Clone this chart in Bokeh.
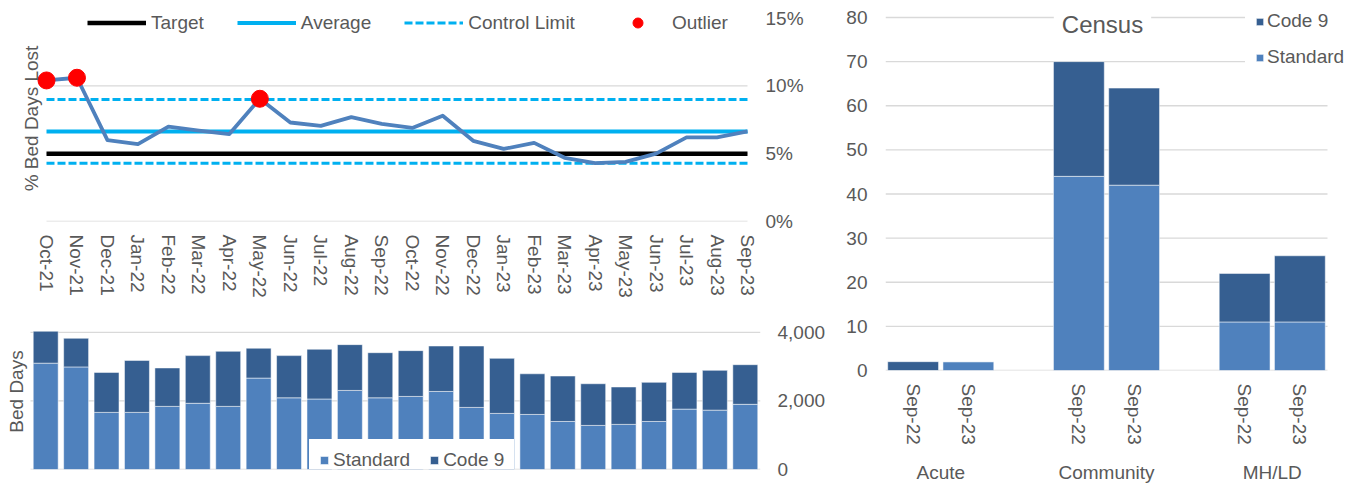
import math
from bokeh.plotting import figure
from bokeh.layouts import row, column
from bokeh.models import (Range1d, FixedTicker, PrintfTickFormatter,
                          NumeralTickFormatter, Legend, LegendItem, Label, LinearAxis,
                          ColumnDataSource)
from bokeh.embed import file_html
from bokeh.resources import INLINE

# ---------------- data ----------------
months = ["Oct-21", "Nov-21", "Dec-21", "Jan-22", "Feb-22", "Mar-22", "Apr-22", "May-22",
          "Jun-22", "Jul-22", "Aug-22", "Sep-22", "Oct-22", "Nov-22", "Dec-22", "Jan-23",
          "Feb-23", "Mar-23", "Apr-23", "May-23", "Jun-23", "Jul-23", "Aug-23", "Sep-23"]
pct_lost = [10.4, 10.6, 6.0, 5.7, 7.0, 6.7, 6.45, 9.05, 7.3, 7.05, 7.7, 7.2,
            6.9, 7.8, 5.95, 5.35, 5.8, 4.7, 4.3, 4.4, 5.0, 6.2, 6.2, 6.65]
target = 5.0
average = 6.63
upper_limit = 9.0
lower_limit = 4.3
outlier_months = ["Oct-21", "Nov-21", "May-22"]
pct_ticks = [0, 5, 10, 15]

standard_days = [3100, 2990, 1665, 1665, 1840, 1930, 1840, 2665, 2090, 2055, 2305, 2090,
                 2130, 2275, 1810, 1635, 1605, 1400, 1285, 1315, 1400, 1760, 1730, 1900]
code9_days = [930, 835, 1165, 1515, 1120, 1390, 1605, 870, 1230, 1450, 1335, 1315,
              1335, 1325, 1790, 1605, 1185, 1325, 1215, 1090, 1140, 1070, 1160, 1155]
bed_ticks = [0, 2000, 4000]

census_groups = ["Acute", "Community", "MH/LD"]
census_periods = ["Sep-22", "Sep-23"]
census_standard = [0, 2, 44, 42, 11, 11]
census_code9 = [2, 0, 26, 22, 11, 15]
census_ticks = [0, 10, 20, 30, 40, 50, 60, 70, 80]

# ---------------- style ----------------
FONT = "Liberation Sans"
TXT = "#595959"
GRID = "#d9d9d9"
C_STD = "#4f81bd"
C_C9 = "#365f91"
C_AVG = "#00b0f0"
FS = "19px"


def style_fig(p):
    p.outline_line_color = None
    p.background_fill_color = "white"
    p.border_fill_color = "white"
    p.xgrid.visible = False
    p.ygrid.visible = False


def style_axis(ax, standoff):
    ax.major_label_text_font = FONT
    ax.major_label_text_font_size = FS
    ax.major_label_text_color = TXT
    ax.major_tick_line_color = None
    ax.major_tick_out = 0
    ax.major_tick_in = 0
    ax.minor_tick_line_color = None
    ax.minor_tick_out = 0
    ax.axis_line_color = None
    ax.major_label_standoff = standoff


def gridlines(p, x0, x1, ticks):
    p.segment(x0=[x0] * len(ticks), x1=[x1] * len(ticks), y0=ticks, y1=ticks,
              line_color=GRID, line_width=1.3)


n = len(months)
xs = list(range(n))

# ---------------- top-left: % bed days lost ----------------
# frames of both left charts start at the page edge; side titles sit inside them
a_px = 701 / (n - 1)
a_start = -46 / a_px
pA = figure(frame_width=760, frame_height=217,
            x_range=Range1d(a_start, a_start + 760 / a_px),
            y_range=Range1d(0, 16), y_axis_location="right",
            min_border_left=0, min_border_right=70, min_border_top=4, min_border_bottom=99,
            output_backend="svg", toolbar_location=None)
style_fig(pA)
style_axis(pA.yaxis[0], 5)
pA.yaxis.ticker = FixedTicker(ticks=pct_ticks)
pA.yaxis.formatter = PrintfTickFormatter(format="%d%%")
style_axis(pA.xaxis[0], 13)
pA.xaxis.ticker = FixedTicker(ticks=xs)
pA.xaxis.major_label_overrides = {i: m for i, m in enumerate(months)}
pA.xaxis.major_label_orientation = "vertical"
gridlines(pA, xs[0], xs[-1], pct_ticks[:-1])

ends = [xs[0], xs[-1]]
r_ucl = pA.line(ends, [upper_limit] * 2, line_color=C_AVG, line_width=3, line_dash="8 3")
r_lcl = pA.line(ends, [lower_limit] * 2, line_color=C_AVG, line_width=3, line_dash="8 3")
r_tgt = pA.line(ends, [target] * 2, line_color="black", line_width=4.5)
r_avg = pA.line(ends, [average] * 2, line_color=C_AVG, line_width=4)
pA.line(xs, pct_lost, line_color=C_STD, line_width=3.8, line_join="round")
ox = [months.index(m) for m in outlier_months]
oy = [pct_lost[i] for i in ox]
r_out = pA.scatter(ox, oy, size=17, fill_color="#ff0000", line_color="#ff0000")

legA = Legend(items=[LegendItem(label="Target", renderers=[r_tgt]),
                     LegendItem(label="Average", renderers=[r_avg]),
                     LegendItem(label="Control Limit", renderers=[r_ucl]),
                     LegendItem(label="Outlier", renderers=[r_out])],
              orientation="horizontal", location=(82, 181), glyph_width=59, glyph_height=25,
              label_standoff=5, spacing=33, padding=5, margin=0,
              background_fill_alpha=0, border_line_alpha=0,
              label_text_font=FONT, label_text_font_size=FS, label_text_color=TXT)
pA.add_layout(legA)
pA.add_layout(Label(x=31, y=103, x_units="screen", y_units="screen", text="% Bed Days Lost",
                    angle=math.pi / 2, text_align="center", text_baseline="middle",
                    text_font=FONT, text_font_size=FS, text_color=TXT))

# ---------------- bottom-left: bed days ----------------
slot = 730 / n
pB = figure(frame_width=760, frame_height=139,
            x_range=Range1d(-0.5 - 30 / slot, n - 0.5),
            y_range=Range1d(0, 4052), y_axis_location="right",
            min_border_left=0, min_border_right=70, min_border_top=10, min_border_bottom=16,
            output_backend="svg", toolbar_location=None)
style_fig(pB)
pB.xaxis.visible = False
style_axis(pB.yaxis[0], 17)
pB.yaxis.ticker = FixedTicker(ticks=bed_ticks)
pB.yaxis.formatter = NumeralTickFormatter(format="0,0")
gridlines(pB, -0.5, n - 0.5, bed_ticks)
srcB = ColumnDataSource({"x": xs, "Standard": standard_days, "Code 9": code9_days})
rB = pB.vbar_stack(["Standard", "Code 9"], x="x", width=0.82, source=srcB,
                   fill_color=[C_STD, C_C9], line_color="white", line_alpha=0.5, line_width=1)
legB = Legend(items=[LegendItem(label="Standard", renderers=[rB[0]]),
                     LegendItem(label="Code 9", renderers=[rB[1]])],
              orientation="horizontal", location=(309, -12), glyph_width=10, glyph_height=10,
              label_standoff=4, spacing=19, padding=10, margin=0,
              background_fill_color="white", background_fill_alpha=1, border_line_alpha=0,
              label_text_font=FONT, label_text_font_size=FS, label_text_color=TXT)
pB.add_layout(legB)
pB.add_layout(Label(x=16, y=78, x_units="screen", y_units="screen", text="Bed Days",
                    angle=math.pi / 2, text_align="center", text_baseline="middle",
                    text_font=FONT, text_font_size=FS, text_color=TXT))

# ---------------- right: census ----------------
n_per = len(census_periods)
group_pad = 1.0
cx, cper = [], []
for gi, g in enumerate(census_groups):
    for pj, per in enumerate(census_periods):
        cx.append(gi * (n_per + group_pad) + pj + 0.5)
        cper.append(per)
group_centers = [gi * (n_per + group_pad) + n_per / 2 for gi in range(len(census_groups))]
bars_end = len(census_groups) * (n_per + group_pad) - group_pad
px_per_unit = 353 / census_ticks[-1]

pC = figure(frame_width=472, frame_height=370,
            x_range=Range1d(0, bars_end * 472 / 442),
            y_range=Range1d(0, census_ticks[-1] + 17 / px_per_unit),
            min_border_left=55, min_border_right=0, min_border_top=0, min_border_bottom=115,
            output_backend="svg", toolbar_location=None)
style_fig(pC)
style_axis(pC.yaxis[0], 18)
pC.yaxis.ticker = FixedTicker(ticks=census_ticks)
style_axis(pC.xaxis[0], 13)
pC.xaxis.ticker = FixedTicker(ticks=cx)
pC.xaxis.major_label_overrides = {x: per for x, per in zip(cx, cper)}
pC.xaxis.major_label_orientation = "vertical"
gax = LinearAxis(ticker=FixedTicker(ticks=group_centers),
                 major_label_overrides={x: g for x, g in zip(group_centers, census_groups)})
style_axis(gax, 14)
gax.major_label_orientation = "horizontal"
pC.add_layout(gax, "below")
gridlines(pC, 0, bars_end, census_ticks)

srcC = ColumnDataSource({"x": cx, "Standard": census_standard, "Code 9": census_code9})
rC = pC.vbar_stack(["Standard", "Code 9"], x="x", width=0.92, source=srcC,
                   fill_color=[C_STD, C_C9], line_color="white", line_alpha=0.5, line_width=1)
legC = Legend(items=[LegendItem(label="Code 9", renderers=[rC[1]]),
                     LegendItem(label="Standard", renderers=[rC[0]])],
              orientation="vertical", location=(360, 292), glyph_width=9, glyph_height=9,
              label_standoff=3, label_height=21, spacing=14, padding=10, margin=0,
              background_fill_color="white", background_fill_alpha=1, border_line_alpha=0,
              label_text_font=FONT, label_text_font_size=FS, label_text_color=TXT)
pC.add_layout(legC)
pC.add_layout(Label(x=217, y=346, x_units="screen", y_units="screen", text="Census",
                    text_align="center", text_baseline="middle", text_font=FONT,
                    text_font_size="24px", text_color=TXT,
                    background_fill_color="white", padding=8))

layout = row(column(pA, pB), pC)
open("out.html", "w").write(file_html(layout, INLINE))
